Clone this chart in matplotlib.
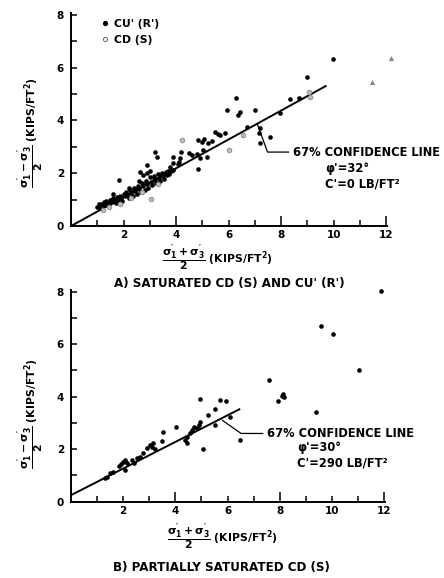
import matplotlib
matplotlib.use("Agg")
from matplotlib import pyplot as plt
from matplotlib.lines import Line2D

plt.rcParams['font.family'] = ['DejaVu Sans']
plt.rcParams['font.weight'] = 'bold'
plt.rcParams['mathtext.fontset'] = 'custom'
plt.rcParams['mathtext.rm'] = 'DejaVu Sans:bold'
plt.rcParams['mathtext.it'] = 'DejaVu Sans:bold'
plt.rcParams['mathtext.bf'] = 'DejaVu Sans:bold'

# ---- panel A : saturated CD (S) and CU' (R') ----
# CU' (R') tests, filled dots
a_cu_x = [1.0, 1.05, 1.1, 1.15, 1.2, 1.25, 1.3, 1.35, 1.4, 1.45, 1.5, 1.55, 1.6, 1.65, 1.7,
          1.75, 1.8, 1.85, 1.9, 1.95, 2.0, 2.05, 2.1, 2.15, 2.2, 2.25, 2.3, 2.35, 2.4, 2.45,
          2.5, 2.55, 2.6, 2.65, 2.7, 2.75, 2.8, 2.85, 2.9, 2.95, 3.0, 3.05, 3.1, 3.15, 3.2,
          3.25, 3.3, 3.35, 3.4, 3.45, 3.5, 3.55, 3.6, 3.65, 3.7, 3.75, 3.8, 3.9, 2.75, 2.9,
          3.0, 2.6, 2.2, 1.6, 1.3, 1.7, 2.1, 2.45, 2.85, 3.15, 3.45,
          1.82, 2.64, 2.9, 3.2, 3.27, 3.77, 3.9, 4.09, 3.89, 4.13, 4.15, 4.19, 4.5, 4.6,
          4.8, 4.85, 4.93, 5.03, 5.17, 4.84, 4.98, 5.05, 5.2, 5.37, 5.49, 5.6, 5.68, 5.87,
          5.93, 6.27, 6.37, 6.42, 7.01, 6.69, 7.2, 7.17, 7.2, 7.58, 7.96, 8.34, 8.7, 8.98,
          9.97]
a_cu_y = [0.72, 0.82, 0.70, 0.85, 0.78, 0.92, 0.80, 0.95, 0.88, 0.78, 0.98, 0.90, 1.05, 0.95, 0.88,
          1.08, 1.00, 1.15, 1.05, 0.95, 1.22, 1.12, 1.30, 1.18, 1.05, 1.35, 1.25, 1.15, 1.45, 1.32,
          1.22, 1.52, 1.40, 1.30, 1.62, 1.50, 1.38, 1.70, 1.58, 1.45, 1.85, 1.65, 1.55, 1.90, 1.75,
          1.62, 1.98, 1.82, 1.70, 2.02, 1.88, 1.78, 2.05, 1.92, 2.10, 1.98, 2.08, 2.12, 1.95, 2.00,
          2.10, 1.70, 1.45, 1.20, 0.88, 0.98, 1.20, 1.42, 1.62, 1.80, 1.95,
          1.74, 2.06, 2.31, 2.82, 2.63, 2.22, 2.37, 2.34, 2.63, 2.42, 2.58, 2.82, 2.75, 2.69,
          2.72, 2.15, 2.56, 2.88, 2.63, 3.26, 3.19, 3.30, 3.15, 3.22, 3.57, 3.50, 3.45, 3.51,
          4.39, 4.84, 4.20, 4.32, 4.39, 3.76, 3.70, 3.51, 3.16, 3.36, 4.27, 4.81, 4.86, 5.66,
          6.31]
# CD (S) tests, open circles
a_cd_x = [1.2, 1.45, 1.88, 2.3, 2.7, 3.06, 3.3, 4.22, 6.0, 6.56, 9.05, 9.1]
a_cd_y = [0.62, 0.72, 0.83, 1.05, 1.30, 1.02, 1.60, 3.26, 2.88, 3.45, 5.09, 4.90]
a_tri_x = [11.45, 12.18]
a_tri_y = [5.44, 6.35]
a_fit_x = [0.0, 9.7]
a_fit_y = [0.0, 5.3]

# ---- panel B : partially saturated CD (S) ----
b_x = [1.3, 1.38, 1.5, 1.62, 1.83, 1.9, 2.0, 2.05, 2.07, 2.13, 2.32, 2.4, 2.52, 2.64, 2.77,
       2.9, 3.03, 3.09, 3.15, 3.22, 3.47, 3.54, 4.02, 4.37, 4.43, 4.44, 4.56, 4.62, 4.7, 4.81,
       4.92, 4.94, 4.94, 5.04, 5.26, 5.52, 5.52, 5.71, 5.94, 6.09, 6.47, 7.6, 7.92, 8.07, 8.13,
       8.16, 9.39, 9.6, 10.03, 11.03, 11.9]
b_y = [0.89, 0.95, 1.08, 1.12, 1.37, 1.42, 1.52, 1.59, 1.21, 1.46, 1.59, 1.46, 1.65, 1.71, 1.84,
       2.03, 2.16, 2.1, 2.22, 2.0, 2.32, 2.64, 2.86, 2.35, 2.22, 2.48, 2.6, 2.73, 2.85, 2.79,
       2.92, 3.05, 3.91, 2.0, 3.30, 3.52, 2.92, 3.87, 3.85, 3.24, 2.35, 4.63, 3.85, 4.03, 4.1,
       3.97, 3.43, 6.69, 6.37, 5.02, 8.03]
b_fit_x = [0.0, 6.45]
b_fit_y = [0.25, 3.52]

xlong = [4, 8, 12]
xshort = [1, 2, 3, 5, 6, 7, 9, 10, 11]
xshort_labels = ['', '2', '', '', '6', '', '', '10', '']
yticks = [0, 2, 4, 6, 8]

fig = plt.figure(figsize=(4.44, 5.78), dpi=100)
ax1 = fig.add_axes([0.16, 0.609, 0.7125, 0.3677])
ax2 = fig.add_axes([0.16, 0.132, 0.708, 0.3656])


def style(ax):
    ax.set_xlim(0, 12.05)
    ax.set_ylim(0, 8.05)
    ax.spines['top'].set_visible(False)
    ax.spines['right'].set_visible(False)
    ax.spines['left'].set_linewidth(1.4)
    ax.spines['bottom'].set_linewidth(1.4)
    ax.set_xticks(xlong)
    ax.set_xticks(xshort, labels=xshort_labels, minor=True)
    ax.set_yticks(yticks)
    ax.set_yticks(range(1, 8, 2), minor=True)
    ax.tick_params(which='both', direction='in', width=1.1, labelsize=7.5)
    ax.tick_params(axis='x', which='major', length=7, pad=3)
    ax.tick_params(axis='x', which='minor', length=4, pad=3)
    ax.tick_params(axis='y', which='both', length=4, pad=5)


style(ax1)
style(ax2)

# panel A
ax1.plot(a_fit_x, a_fit_y, color='black', lw=1.4)
ax1.scatter(a_cu_x, a_cu_y, s=11, color='black', lw=0, zorder=3)
ax1.scatter(a_cd_x, a_cd_y, s=11, facecolor='#bbbbbb', edgecolor='#888888', lw=0.6, zorder=3)
ax1.scatter(a_tri_x, a_tri_y, s=14, marker='^', color='#888888', lw=0, zorder=3, clip_on=False)

handles = [Line2D([], [], ls='', marker='o', ms=2.8, color='black'),
           Line2D([], [], ls='', marker='o', ms=3, mfc='white', mec='#666666', mew=0.7)]
ax1.legend(handles, ["CU' (R')", "CD (S)"], loc='upper left', bbox_to_anchor=(0.075, 1.0),
           frameon=False, fontsize=7.8, handlelength=0.8, handletextpad=0.5,
           labelspacing=0.55, borderpad=0)

ax1.annotate("67% CONFIDENCE LINE", xy=(7.1, 3.85), xytext=(8.45, 2.8),
             fontsize=8.3, va='center', ha='left', annotation_clip=False,
             arrowprops=dict(arrowstyle='-', lw=0.9, color='black', shrinkA=1, shrinkB=0,
                             connectionstyle='angle,angleA=0,angleB=110,rad=0'))
ax1.text(9.68, 2.16, "φ'=32°", fontsize=8.3, va='center', ha='left')
ax1.text(9.68, 1.60, "C'=0 LB/FT²", fontsize=8.3, va='center', ha='left')

# panel B
ax2.plot(b_fit_x, b_fit_y, color='black', lw=1.4)
ax2.scatter(b_x, b_y, s=11, color='black', lw=0, zorder=3, clip_on=False)

ax2.annotate("67% CONFIDENCE LINE", xy=(5.8, 3.1), xytext=(7.51, 2.6),
             fontsize=8.3, va='center', ha='left', annotation_clip=False,
             arrowprops=dict(arrowstyle='-', lw=0.9, color='black', shrinkA=1, shrinkB=0,
                             connectionstyle='angle,angleA=0,angleB=145,rad=0'))
ax2.text(8.66, 2.05, "φ'=30°", fontsize=8.3, va='center', ha='left')
ax2.text(8.66, 1.46, "C'=290 LB/FT²", fontsize=8.3, va='center', ha='left')

# axis labels and captions
ylab = "$\\dfrac{\\sigma_1' - \\sigma_3'}{2}$ (KIPS/FT$^{2}$)"
xlab = "$\\dfrac{\\sigma_1' + \\sigma_3'}{2}$ (KIPS/FT$^{2}$)"
fig.text(0.068, 0.77, ylab, rotation=90, fontsize=7.8, ha='center', va='center')
fig.text(0.068, 0.285, ylab, rotation=90, fontsize=7.8, ha='center', va='center')
fig.text(0.49, 1 - 258 / 578, xlab, fontsize=7.8, ha='center', va='center')
fig.text(0.50, 1 - 537 / 578, xlab, fontsize=7.8, ha='center', va='center')
fig.text(0.516, 1 - 284 / 578, "A) SATURATED CD (S) AND CU' (R')", fontsize=8.6,
         ha='center', va='center')
fig.text(0.498, 1 - 567 / 578, "B) PARTIALLY SATURATED CD (S)", fontsize=8.6,
         ha='center', va='center')

fig.savefig("out.png", dpi=100)
